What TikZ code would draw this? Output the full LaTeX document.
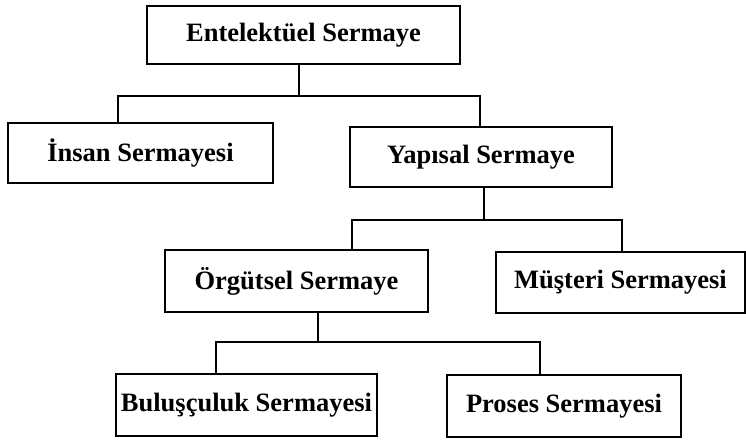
\documentclass[tikz,border=0pt]{standalone}
\usepackage{fontspec}
\setmainfont{Liberation Serif}
\begin{document}
\begin{tikzpicture}[x=1pt,y=-1pt]
\tikzset{
  box/.style={draw, line width=2.8pt, inner sep=0pt, anchor=center,
    font=\fontsize{26.5}{30}\selectfont\bfseries},
  conn/.style={draw, line width=2.2pt}
}
\useasboundingbox (0,0) rectangle (746,441);
\node[box, minimum width=313pt, minimum height=58pt] (ent) at (303.5,35) {Entelektüel Sermaye};
\node[box, minimum width=265pt, minimum height=60pt] (ins) at (140.5,153) {İnsan Sermayesi};
\node[box, minimum width=262pt, minimum height=60pt] (yap) at (481,157) {Yapısal Sermaye};
\node[box, minimum width=263pt, minimum height=62pt] (org) at (296.5,281) {Örgütsel Sermaye};
\node[box, minimum width=249pt, minimum height=61pt] (mus) at (620.5,282.5) {Müşteri Sermayesi};
\node[box, minimum width=261pt, minimum height=62pt] (bul) at (246.5,405) {Buluşçuluk Sermayesi};
\node[box, minimum width=234pt, minimum height=62pt] (pro) at (564,406) {Proses Sermayesi};
\coordinate (j1) at (299,96);
\coordinate (j2) at (484,220);
\coordinate (j3) at (318,342);
\draw[conn] ([xshift=-4.5pt]ent.south) -- (j1);
\draw[conn] ([xshift=-22.5pt]ins.north) |- (j1) -| ([xshift=-1pt]yap.north);
\draw[conn] ([xshift=3pt]yap.south) -- (j2);
\draw[conn] ([xshift=55.5pt]org.north) |- (j2) -| ([xshift=1.5pt]mus.north);
\draw[conn] ([xshift=21.5pt]org.south) -- (j3);
\draw[conn] ([xshift=-30.5pt]bul.north) |- (j3) -| ([xshift=-24pt]pro.north);
\end{tikzpicture}
\end{document}
